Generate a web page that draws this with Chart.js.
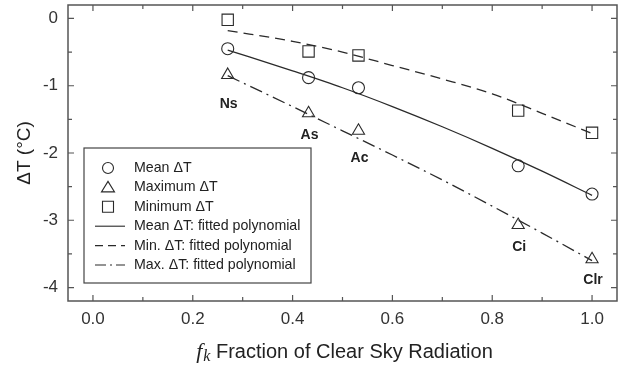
<!DOCTYPE html>
<html>
<head>
<meta charset="utf-8">
<script src="https://cdn.jsdelivr.net/npm/chart.js@4/dist/chart.umd.min.js"></script>
<style>
html, body { margin: 0; padding: 0; background: #fff; }
#wrap { width: 623px; height: 369px; position: relative; }
</style>
</head>
<body>
<div id="wrap"><canvas id="chart"></canvas></div>
<script>
// cloud types and measured points
const clouds = ['Ns', 'As', 'Ac', 'Ci', 'Clr']
const fk = [0.27, 0.432, 0.532, 0.852, 1.0]
const meanDT = [-0.45, -0.88, -1.03, -2.19, -2.61]
const maxDT = [-0.84, -1.41, -1.67, -3.07, -3.58]
const minDT = [-0.02, -0.49, -0.55, -1.37, -1.70]

// fitted polynomial curves
const fitX = [0.27, 0.4, 0.5, 0.6, 0.7, 0.8, 0.9, 1.0]
const meanFit = [-0.47, -0.78, -1.03, -1.31, -1.61, -1.93, -2.27, -2.63]
const minFit = [-0.18, -0.34, -0.50, -0.70, -0.90, -1.12, -1.41, -1.71]
const maxFit = [-0.85, -1.31, -1.67, -2.03, -2.40, -2.79, -3.19, -3.60]

// ticks
const xMajor = [0.0, 0.2, 0.4, 0.6, 0.8, 1.0]
const xMinor = [0.1, 0.3, 0.5, 0.7, 0.9]
const yMajor = [-4, -3, -2, -1, 0]
const yMinor = [-3.5, -2.5, -1.5, -0.5]

const legendItems = [
	{ type: 'circle', text: 'Mean \u0394T' },
	{ type: 'triangle', text: 'Maximum \u0394T' },
	{ type: 'square', text: 'Minimum \u0394T' },
	{ type: 'line', dash: [], text: 'Mean \u0394T: fitted polynomial' },
	{ type: 'line', dash: [8, 5], text: 'Min. \u0394T: fitted polynomial' },
	{ type: 'line', dash: [11, 4, 2, 4], text: 'Max. \u0394T: fitted polynomial' },
]

// how far below each triangle its cloud label sits (px)
const labelDrop = [29, 22, 27, 22, 21]

const ink = '#2a2a2a'
const pts = (xs, ys) => xs.map((x, i) => ({ x: x, y: ys[i] }))

// no extra room for edge labels, the plot box is fixed
const noPad = s => { s.paddingTop = 0; s.paddingBottom = 0; s.paddingLeft = 0; s.paddingRight = 0 }

const decor = {
	id: 'decor',
	afterDraw(chart) {
		const { ctx, chartArea: a, scales } = chart
		const sx = scales.x, sy = scales.y
		ctx.save()
		// frame
		ctx.strokeStyle = '#555'
		ctx.lineWidth = 1.5
		ctx.strokeRect(a.left, a.top, a.right - a.left, a.bottom - a.top)
		ctx.lineWidth = 1.2
		const tickX = (v, len) => {
			const px = sx.getPixelForValue(v)
			ctx.beginPath()
			ctx.moveTo(px, a.bottom); ctx.lineTo(px, a.bottom - len)
			ctx.moveTo(px, a.top); ctx.lineTo(px, a.top + len)
			ctx.stroke()
		}
		const tickY = (v, len) => {
			const py = sy.getPixelForValue(v)
			ctx.beginPath()
			ctx.moveTo(a.left, py); ctx.lineTo(a.left + len, py)
			ctx.moveTo(a.right, py); ctx.lineTo(a.right - len, py)
			ctx.stroke()
		}
		xMajor.forEach(v => tickX(v, 6))
		xMinor.forEach(v => tickX(v, 4))
		yMajor.forEach(v => tickY(v, 6))
		yMinor.forEach(v => tickY(v, 4))

		// legend
		const bx = 84, by = 148, bw = 227, bh = 135
		ctx.fillStyle = '#fff'
		ctx.fillRect(bx, by, bw, bh)
		ctx.strokeStyle = '#444'
		ctx.lineWidth = 1.2
		ctx.strokeRect(bx, by, bw, bh)
		ctx.font = '14.2px "Liberation Sans", Arial, sans-serif'
		ctx.textAlign = 'left'
		ctx.textBaseline = 'middle'
		legendItems.forEach((it, i) => {
			const y = 168 + i * 19.4
			const cx = 108
			ctx.strokeStyle = ink
			ctx.lineWidth = 1.1
			ctx.setLineDash([])
			ctx.beginPath()
			if (it.type === 'circle') {
				ctx.arc(cx, y, 5.5, 0, Math.PI * 2)
			} else if (it.type === 'triangle') {
				ctx.moveTo(cx, y - 6); ctx.lineTo(cx + 6.5, y + 4.5); ctx.lineTo(cx - 6.5, y + 4.5); ctx.closePath()
			} else if (it.type === 'square') {
				ctx.rect(cx - 5.5, y - 5.5, 11, 11)
			} else {
				ctx.setLineDash(it.dash)
				ctx.moveTo(95, y); ctx.lineTo(125, y)
			}
			ctx.stroke()
			ctx.setLineDash([])
			ctx.fillStyle = '#222'
			ctx.fillText(it.text, 134, y)
		})

		// cloud labels under the max points
		ctx.fillStyle = '#222'
		ctx.font = 'bold 14px "Liberation Sans", Arial, sans-serif'
		ctx.textAlign = 'center'
		ctx.textBaseline = 'middle'
		chart.getDatasetMeta(1).data.forEach((p, i) => {
			ctx.fillText(clouds[i], p.x + 1, p.y + labelDrop[i])
		})

		// axis titles
		ctx.fillStyle = '#222'
		ctx.save()
		ctx.translate(25, (a.top + a.bottom) / 2)
		ctx.rotate(-Math.PI / 2)
		ctx.textAlign = 'center'
		ctx.font = '19px "Liberation Sans", Arial, sans-serif'
		ctx.fillText('\u0394T (\u00b0C)', 0, 0)
		ctx.restore()

		const fFont = 'italic 22px "Liberation Serif", "Times New Roman", serif'
		const kFont = 'italic 16px "Liberation Serif", "Times New Roman", serif'
		const tFont = '20px "Liberation Sans", Arial, sans-serif'
		const rest = ' Fraction of Clear Sky Radiation'
		ctx.font = fFont; const wf = ctx.measureText('f').width + 1
		ctx.font = kFont; const wk = ctx.measureText('k').width
		ctx.font = tFont; const wt = ctx.measureText(rest).width
		let x0 = (a.left + a.right) / 2 + 2 - (wf + wk + wt) / 2
		const ty = 352
		ctx.textAlign = 'left'
		ctx.textBaseline = 'middle'
		ctx.font = fFont; ctx.fillText('f', x0, ty)
		ctx.font = kFont; ctx.fillText('k', x0 + wf, ty + 5)
		ctx.font = tFont; ctx.fillText(rest, x0 + wf + wk, ty)
		ctx.restore()
	}
}

new Chart(document.getElementById('chart'), {
	type: 'scatter',
	data: {
		datasets: [
			{ label: 'Mean \u0394T', data: pts(fk, meanDT), pointStyle: 'circle', pointRadius: 6, borderColor: ink, backgroundColor: 'rgba(0,0,0,0)', borderWidth: 1.1, showLine: false },
			{ label: 'Maximum \u0394T', data: pts(fk, maxDT), pointStyle: 'triangle', pointRadius: 7, borderColor: ink, backgroundColor: 'rgba(0,0,0,0)', borderWidth: 1.1, showLine: false },
			{ label: 'Minimum \u0394T', data: pts(fk, minDT), pointStyle: 'rect', pointRadius: 8, borderColor: ink, backgroundColor: 'rgba(0,0,0,0)', borderWidth: 1.1, showLine: false },
			{ label: 'Mean fit', data: pts(fitX, meanFit), showLine: true, pointRadius: 0, borderColor: ink, borderWidth: 1.3, cubicInterpolationMode: 'monotone' },
			{ label: 'Min fit', data: pts(fitX, minFit), showLine: true, pointRadius: 0, borderColor: ink, borderWidth: 1.3, borderDash: [10, 6], cubicInterpolationMode: 'monotone' },
			{ label: 'Max fit', data: pts(fitX, maxFit), showLine: true, pointRadius: 0, borderColor: ink, borderWidth: 1.3, borderDash: [13, 5, 2, 5], cubicInterpolationMode: 'monotone' },
		]
	},
	options: {
		responsive: true,
		maintainAspectRatio: false,
		animation: false,
		devicePixelRatio: 1,
		layout: { autoPadding: false, padding: { top: 5, right: 6, left: 0, bottom: 0 } },
		plugins: { legend: { display: false }, tooltip: { enabled: false } },
		scales: {
			x: {
				type: 'linear', min: -0.05, max: 1.05,
				afterFit: s => { s.height = 68; noPad(s) },
				afterBuildTicks: s => { s.ticks = xMajor.map(v => ({ value: v })) },
				grid: { display: false, drawTicks: false }, border: { display: false },
				ticks: { color: '#333', padding: 8, font: { size: 17, family: '"Liberation Sans", Arial, sans-serif' }, callback: v => v.toFixed(1) }
			},
			y: {
				type: 'linear', min: -4.2, max: 0.2,
				afterFit: s => { s.width = 68; noPad(s) },
				afterBuildTicks: s => { s.ticks = yMajor.map(v => ({ value: v })) },
				grid: { display: false, drawTicks: false }, border: { display: false },
				ticks: { color: '#333', padding: 10, font: { size: 17, family: '"Liberation Sans", Arial, sans-serif' }, callback: v => String(v) }
			}
		}
	},
	plugins: [decor]
})
</script>
</body>
</html>
